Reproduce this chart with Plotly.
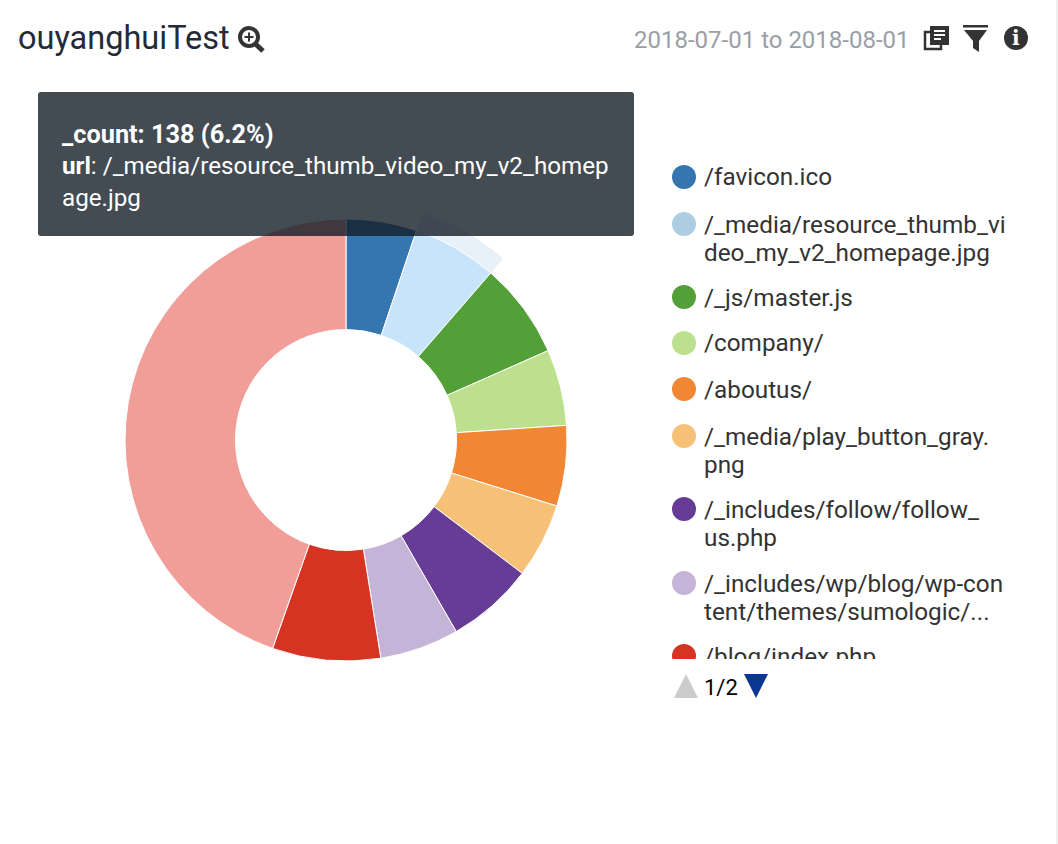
import plotly.graph_objects as go

W, H = 1058, 844

# ---- data ----
urls = ["/favicon.ico", "/_media/resource_thumb_video_my_v2_homepage.jpg", "/_js/master.js",
        "/company/", "/aboutus/", "/_media/play_button_gray.png",
        "/_includes/follow/follow_us.php", "/_includes/wp/blog/wp-content/themes/sumologic/...",
        "/blog/index.php", "others"]
counts = [115, 138, 156, 124, 131, 122, 142, 129, 176, 993]
slice_colors = ["#3575b0", "#c7e4fa", "#52a037", "#bde08f", "#f18634",
                "#f6c176", "#673c96", "#c6b3d8", "#d63323", "#f19e99"]
legend_colors = ["#3575b0", "#aecde3", "#52a037", "#bde08f", "#f18634",
                 "#f6c176", "#673c96", "#c6b3d8", "#d63323"]
legend_lines = [["/favicon.ico"],
                ["/_media/resource_thumb_vi", "deo_my_v2_homepage.jpg"],
                ["/_js/master.js"],
                ["/company/"],
                ["/aboutus/"],
                ["/_media/play_button_gray.", "png"],
                ["/_includes/follow/follow_", "us.php"],
                ["/_includes/wp/blog/wp-con", "tent/themes/sumologic/..."],
                ["/blog/index.php"]]
legend_row_y = [177, 224, 297, 343, 389, 436, 509, 583, 656]
title_text = "ouyanghuiTest"
date_text = "2018-07-01 to 2018-08-01"
page_text = "1/2"
tooltip_bold = "_count: 138 (6.2%)"
tooltip_lines = ["<b>url</b>: /_media/resource_thumb_video_my_v2_homep", "age.jpg"]
hover_index = 1

FONT = "Roboto"
px = lambda x: x / W
py = lambda y: 1 - y / H


def path(points, close=True):
    d = "M " + " L ".join(f"{px(x):.5f},{py(y):.5f}" for x, y in points)
    return d + (" Z" if close else "")


def poly(points, fill):
    return dict(type="path", xref="paper", yref="paper", path=path(points),
                fillcolor=fill, line=dict(width=0), layer="above")


def rect(x0, y0, x1, y1, fill, line=None, lw=0):
    return dict(type="rect", xref="paper", yref="paper", x0=px(x0), x1=px(x1), y0=py(y0), y1=py(y1),
                fillcolor=fill, line=dict(width=lw, color=line or fill), layer="above")


def round_rect(x0, y0, x1, y1, r, fill):
    p = lambda x, y: f"{px(x):.5f},{py(y):.5f}"
    d = (f"M {p(x0 + r, y0)} L {p(x1 - r, y0)} Q {p(x1, y0)} {p(x1, y0 + r)} "
         f"L {p(x1, y1 - r)} Q {p(x1, y1)} {p(x1 - r, y1)} "
         f"L {p(x0 + r, y1)} Q {p(x0, y1)} {p(x0, y1 - r)} "
         f"L {p(x0, y0 + r)} Q {p(x0, y0)} {p(x0 + r, y0)} Z")
    return dict(type="path", xref="paper", yref="paper", path=d, fillcolor=fill,
                line=dict(width=0), layer="above")


def circle(cx, cy, r, fill, line=None, lw=0):
    return dict(type="circle", xref="paper", yref="paper", x0=px(cx - r), x1=px(cx + r),
                y0=py(cy + r), y1=py(cy - r), fillcolor=fill,
                line=dict(width=lw, color=line or fill), layer="above")


def seg(x0, y0, x1, y1, color, lw):
    return dict(type="line", xref="paper", yref="paper", x0=px(x0), x1=px(x1), y0=py(y0), y1=py(y1),
                line=dict(color=color, width=lw), layer="above")


def text(x, y, s, size, color, anchor="left"):
    return dict(xref="paper", yref="paper", x=px(x), y=py(y), text=s, showarrow=False,
                xanchor=anchor, yanchor="middle", align="left", borderpad=0, borderwidth=0,
                font=dict(family=FONT, size=size, color=color))


CX, CY, R, R_HOVER = 346, 440, 221, 240
fig = go.Figure()
# hover halo: same values, only hovered slice is visible
fig.add_trace(go.Pie(
    labels=urls, values=counts, sort=False, direction="clockwise", rotation=0, hole=R / R_HOVER,
    domain=dict(x=[px(CX - R_HOVER), px(CX + R_HOVER)], y=[py(CY + R_HOVER), py(CY - R_HOVER)]),
    marker=dict(colors=["#e8f0f8" if i == hover_index else "rgba(0,0,0,0)" for i in range(len(urls))],
                line=dict(width=0)),
    textinfo="none", hoverinfo="skip", showlegend=False))
fig.add_trace(go.Pie(
    labels=urls, values=counts, sort=False, direction="clockwise", rotation=0, hole=0.5,
    domain=dict(x=[px(CX - R), px(CX + R)], y=[py(CY + R), py(CY - R)]),
    marker=dict(colors=slice_colors, line=dict(color="white", width=1)),
    textinfo="none", showlegend=False))

shapes = []
annotations = []

# header
annotations.append(text(18, 38, title_text, 32.5, "#232b38"))
annotations.append(text(634, 40, date_text, 24, "#9a9ea6"))
DARK = "#333333"
shapes += [circle(249, 37, 9, "rgba(0,0,0,0)", DARK, 4),
           seg(255.5, 44, 263, 51, DARK, 5),
           seg(244.5, 37, 253.5, 37, DARK, 2),
           seg(249, 32.5, 249, 41.5, DARK, 2)]
# copy icon
shapes += [rect(925, 32, 941, 49, "white", DARK, 2.5),
           rect(930, 26, 949, 45, DARK),
           seg(934, 31, 945, 31, "white", 2), seg(934, 35, 945, 35, "white", 2), seg(934, 39, 941, 39, "white", 2)]
# filter icon
shapes += [rect(963, 25, 988, 27.5, DARK),
           poly([(964, 30), (987, 30), (979, 41), (979, 52), (973, 48), (973, 41)], DARK)]
# info icon
shapes += [circle(1016, 38, 12, DARK)]
annotations.append(dict(text(1016, 38, "<b>i</b>", 20, "white", "center"),
                        font=dict(family="DejaVu Serif", size=20, color="white")))

# tooltip
shapes.append(round_rect(38, 92, 634, 236, 3, "rgba(20,30,40,0.8)"))
annotations.append(text(62, 135, f"<b>{tooltip_bold}</b>", 25.3, "white"))
for y, s in zip([166, 198], tooltip_lines):
    annotations.append(text(62, y, s, 24.2, "white"))

# legend
for color, lines, y in zip(legend_colors, legend_lines, legend_row_y):
    shapes.append(circle(684, y, 12, color))
    for j, ln in enumerate(lines):
        annotations.append(text(704, y + j * 28.5, ln, 24.3, "#333333"))
# clip of the scrolling legend area
annotations.append(dict(xref="paper", yref="paper", x=px(660), y=py(659), text=" ", showarrow=False,
                        xanchor="left", yanchor="top", width=380, height=13, bgcolor="white",
                        borderpad=0, borderwidth=0, font=dict(size=8)))
# pager
shapes += [poly([(674, 698), (698, 698), (686, 674)], "#cccccc"),
           poly([(744, 674), (768, 674), (756, 698)], "#0b3694")]
annotations.append(text(704, 687, page_text, 22, "#000000"))
# page edge
shapes.append(rect(1056, 0, 1058, 844, "#eeeeee"))

fig.update_layout(width=W, height=H, autosize=False, margin=dict(l=0, r=0, t=0, b=0),
                  paper_bgcolor="white", plot_bgcolor="white", shapes=shapes, annotations=annotations,
                  font=dict(family=FONT), showlegend=False)
fig.write_html("out.html", config=dict(displayModeBar=False),
               post_script="document.body.style.margin='0';document.body.style.overflow='hidden';")
